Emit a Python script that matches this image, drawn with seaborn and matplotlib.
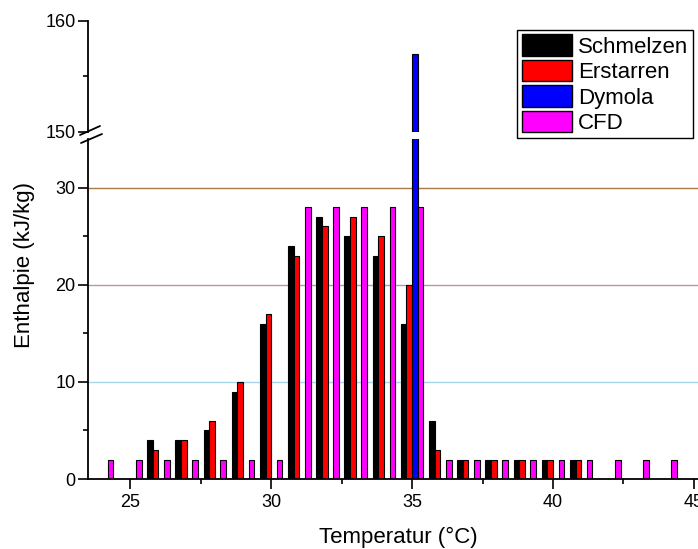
import matplotlib
matplotlib.use("Agg")
import matplotlib.pyplot as plt
from matplotlib.lines import Line2D
from matplotlib.patches import Patch
from matplotlib.ticker import FixedLocator
import seaborn as sns
import pandas as pd

# Messwerte (Temperatur in °C, Enthalpie in kJ/kg)
temp_messung = [26, 27, 28, 29, 30, 31, 32, 33, 34, 35, 36, 37, 38, 39, 40, 41]
schmelzen = [4, 4, 5, 9, 16, 24, 27, 25, 23, 16, 6, 2, 2, 2, 2, 2]
erstarren = [3, 4, 6, 10, 17, 23, 26, 27, 25, 20, 3, 2, 2, 2, 2, 2]
temp_dymola = [35]
dymola = [157]
temp_cfd = [24, 25, 26, 27, 28, 29, 30, 31, 32, 33, 34, 35,
            36, 37, 38, 39, 40, 41, 42, 43, 44, 45]
cfd = [2, 2, 2, 2, 2, 2, 2, 28, 28, 28, 28, 28,
       2, 2, 2, 2, 2, 2, 2, 2, 2, 2]

reihen = ["Schmelzen", "Erstarren", "Dymola", "CFD"]
farben = ["#000000", "#ff0000", "#0000ff", "#ff00ff"]

df = pd.concat([
    pd.DataFrame({"T": temp_messung, "H": schmelzen, "Reihe": "Schmelzen"}),
    pd.DataFrame({"T": temp_messung, "H": erstarren, "Reihe": "Erstarren"}),
    pd.DataFrame({"T": temp_dymola, "H": dymola, "Reihe": "Dymola"}),
    pd.DataFrame({"T": temp_cfd, "H": cfd, "Reihe": "CFD"}),
], ignore_index=True)

sns.set_style("ticks")
plt.rcParams["font.family"] = ["Liberation Sans", "DejaVu Sans"]
for k in ["text.color", "axes.labelcolor", "xtick.color", "ytick.color",
          "axes.edgecolor"]:
    plt.rcParams[k] = "black"

W, H = 698, 549
fig = plt.figure(figsize=(W / 100, H / 100), dpi=100)

def box(x0, y0, x1, y1):
    # Pixel -> Figurkoordinaten
    return [x0 / W, 1 - y1 / H, (x1 - x0) / W, (y1 - y0) / H]

ax_top = fig.add_axes(box(88, 21, 708, 132))
ax_bot = fig.add_axes(box(88, 139, 708, 479))

for ax in (ax_top, ax_bot):
    sns.barplot(data=df, x="T", y="H", hue="Reihe", hue_order=reihen,
                palette=farben, saturation=1, native_scale=True,
                errorbar=None, edgecolor="black", linewidth=0.8,
                legend=False, ax=ax)
    ax.set_xlim(23.5, 45.5)
    ax.set_xlabel("")
    ax.set_ylabel("")
    ax.spines["top"].set_visible(False)
    ax.spines["right"].set_visible(False)
    ax.spines["left"].set_linewidth(1.3)
    ax.spines["bottom"].set_linewidth(1.3)
    ax.tick_params(which="major", length=7, width=1.2, labelsize=13, pad=2)
    ax.tick_params(which="minor", length=3.5, width=1.2)

ax_top.set_ylim(150, 160)
ax_top.yaxis.set_major_locator(FixedLocator([150, 160]))
ax_top.yaxis.set_minor_locator(FixedLocator([155]))
ax_top.spines["bottom"].set_visible(False)
ax_top.tick_params(axis="x", which="both", bottom=False, labelbottom=False)

ax_bot.set_ylim(0, 35)
ax_bot.yaxis.set_major_locator(FixedLocator([0, 10, 20, 30]))
ax_bot.yaxis.set_minor_locator(FixedLocator([5, 15, 25]))
ax_bot.xaxis.set_major_locator(FixedLocator([25, 30, 35, 40, 45]))
ax_bot.xaxis.set_minor_locator(FixedLocator([27.5, 32.5, 37.5, 42.5]))
ax_bot.set_xticklabels(["25", "30", "35", "40", "45"])
ax_bot.tick_params(axis="x", which="major", pad=4)

ax_bot.axhline(10, color="#a6d6ee", lw=1, zorder=0)
ax_bot.axhline(20, color="#b896aa", lw=1, zorder=0)
ax_bot.axhline(30, color="#a87a48", lw=1, zorder=0)

# Achsenbruch
for (x0, y0, x1, y1) in [(80, 135, 100, 126), (81, 143, 102, 134)]:
    fig.add_artist(Line2D([x0 / W, x1 / W], [1 - y0 / H, 1 - y1 / H],
                          color="black", lw=1.3))

fig.text(25 / W, 1 - 265 / H, "Enthalpie (kJ/kg)", rotation=90,
         ha="center", va="center", fontsize=16)
fig.text(398 / W, 1 - 537 / H, "Temperatur (°C)",
         ha="center", va="center", fontsize=16)

handles = [Patch(facecolor=c, edgecolor="black", linewidth=1) for c in farben]
leg = fig.legend(handles, reihen, loc="upper right",
                 bbox_to_anchor=(693 / W, 1 - 30 / H),
                 bbox_transform=fig.transFigure, fontsize=16,
                 frameon=True, fancybox=False, edgecolor="black",
                 framealpha=1, borderpad=0.2, handlelength=2.25,
                 handleheight=1.1, handletextpad=0.3, labelspacing=0.1,
                 borderaxespad=0)
leg.get_frame().set_linewidth(1.0)

fig.savefig("out.png", dpi=100)
